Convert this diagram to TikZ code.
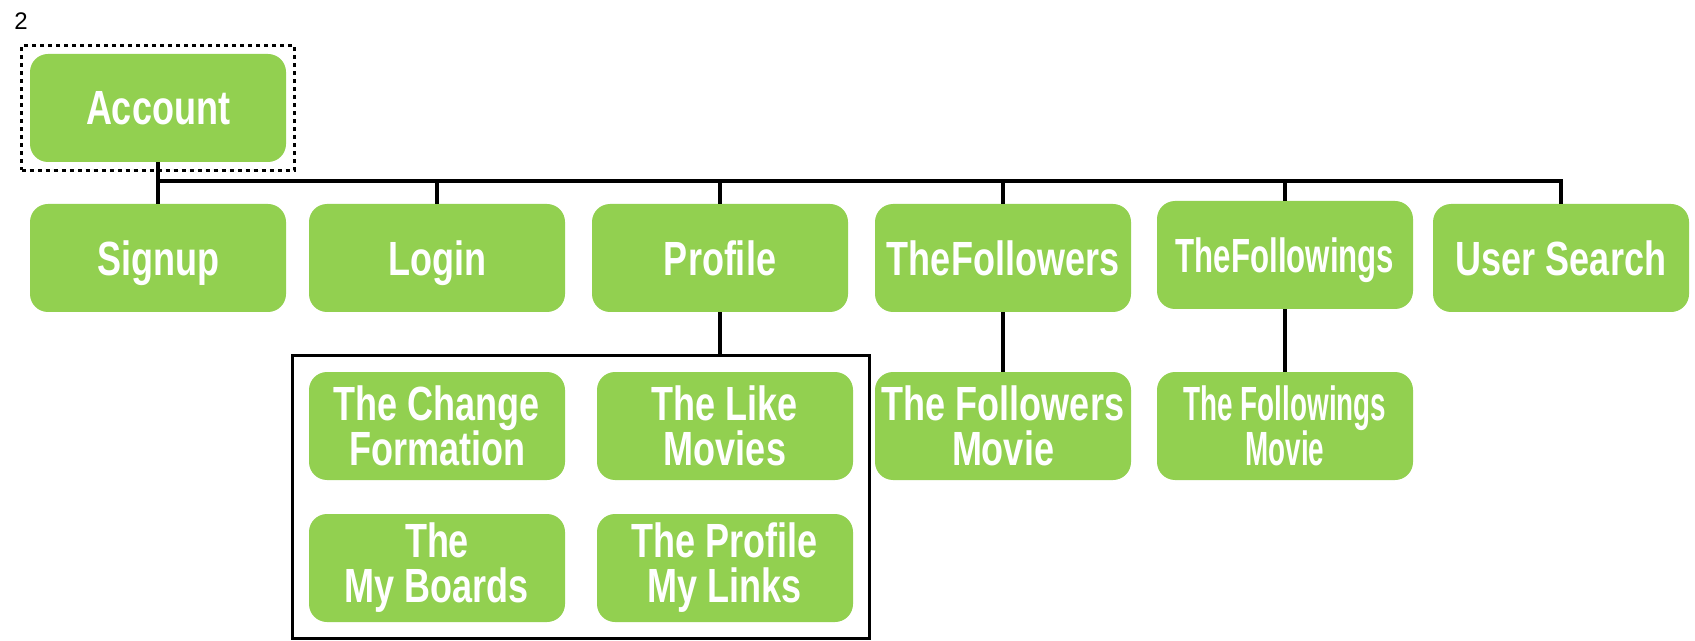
\documentclass[tikz,border=0pt]{standalone}
\usepackage{fontspec}
\setmainfont{Liberation Sans}
\newfontfamily\boxfont{Liberation Sans}[FakeStretch=0.75]
\newfontfamily\tightfont{Liberation Sans}[FakeStretch=0.65]
\newfontfamily\tighterfont{Liberation Sans}[FakeStretch=0.58]
\usetikzlibrary{fit}
\definecolor{leaf}{HTML}{92D050}
\tikzset{
  menu/.style={fill=leaf, rounded corners=9pt, minimum width=128pt, minimum height=54pt,
    inner sep=0pt, text=white, align=center, font=\boxfont\bfseries\fontsize{24}{22.5}\selectfont},
  single/.style={menu, text depth=0pt},
  link/.style={line width=1.7pt},
}

\begin{document}
\begin{tikzpicture}[x=0.5pt,y=-0.5pt]
                \useasboundingbox (0,0) rectangle (1695,641);
                % top
                \node [font=\fontsize{12}{14}\selectfont] (num) at (21,21) {2};
                \node [single] (account) at (158,108) {Account};
                \node [draw, line width=1.7pt, dash pattern=on 2pt off 2pt, fit=(account), inner sep=4pt] (sel) {};
                % first row
                \node [single] (signup) at (158,258) {Signup};
                \node [single] (login) at (437,258) {Login};
                \node [single] (profile) at (720,258) {Profile};
                \node [single] (followers) at (1003,258) {TheFollowers};
                \node [single, font=\tightfont\bfseries\fontsize{24}{22.5}\selectfont] (followings) at (1285,255) {TheFollowings};
                \node [single] (search) at (1561,258) {User Search};
                % second row
                \node [menu] (change) at (437,426) {The Change\\Formation};
                \node [menu] (like) at (725,426) {The Like\\Movies};
                \node [menu] (boards) at (437,568) {The\\My Boards};
                \node [menu] (links) at (725,568) {The Profile\\My Links};
                \node [draw, line width=1.7pt, fit=(change)(like)(boards)(links), inner sep=8pt] (group) {};
                \node [menu] (fmovie) at (1003,426) {The Followers\\Movie};
                \node [menu, font=\tighterfont\bfseries\fontsize{24}{22.5}\selectfont] (gmovie) at (1285,426) {The Followings\\Movie};
                % connectors
                \coordinate (busL) at (158,181);
                \coordinate (busR) at (1561,181);
                \draw [link] (account.south) -- (signup.north);
                \draw [link] (busL) -- (busR) -- (search.north);
                \draw [link] (login.north |- busL) -- (login.north);
                \draw [link] (profile.north |- busL) -- (profile.north);
                \draw [link] (followers.north |- busL) -- (followers.north);
                \draw [link] (followings.north |- busL) -- (followings.north);
                \draw [link] (profile.south) -- (profile.south |- group.north);
                \draw [link] (followers.south) -- (fmovie.north);
                \draw [link] (followings.south) -- (gmovie.north);
\end{tikzpicture}
\end{document}
